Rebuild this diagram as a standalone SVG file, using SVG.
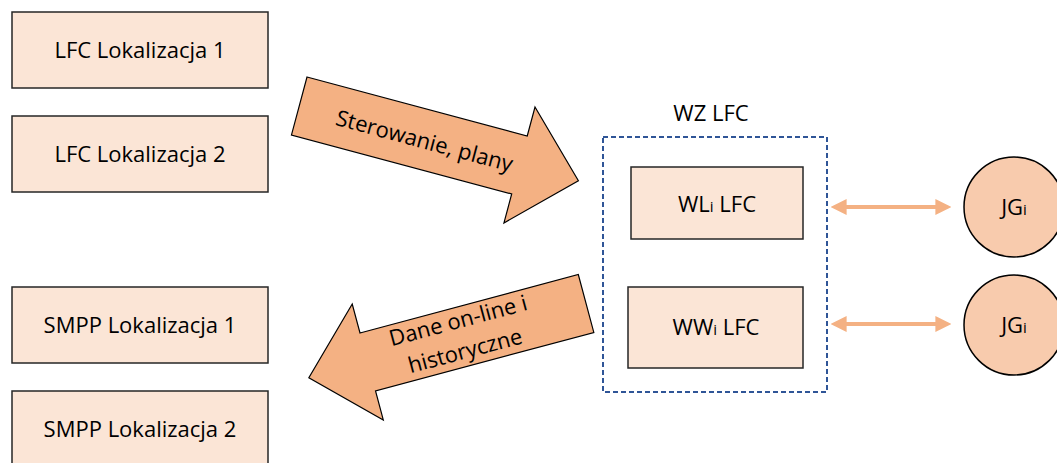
<svg xmlns="http://www.w3.org/2000/svg" width="1057" height="463" viewBox="0 0 1057 463">
<defs>
<style>
.box{fill:#FBE5D6;stroke:#262626;stroke-width:1.5}
.t{font-family:"Open Sans","Liberation Sans",sans-serif;font-size:22px;fill:#000;text-anchor:middle}
.blk{fill:#F4B183;stroke:#000;stroke-width:1.2}
.circ{fill:#F8CBAD;stroke:#000;stroke-width:1.5}
.dbl{stroke:#F4B183;stroke-width:4;fill:none;marker-start:url(#ah);marker-end:url(#ah)}
.sub{font-size:15px}
</style>
<marker id="ah" viewBox="0 0 10 10" refX="6" refY="5" markerWidth="4" markerHeight="4" orient="auto-start-reverse" markerUnits="strokeWidth">
<path d="M0,0 L10,5 L0,10 Z" fill="#F4B183"/>
</marker>
</defs>
<g id="lfc1"><rect class="box" x="12" y="12" width="256" height="76"/><text class="t" x="140" y="58">LFC Lokalizacja 1</text></g>
<g id="lfc2"><rect class="box" x="12" y="116" width="256" height="76"/><text class="t" x="140" y="162">LFC Lokalizacja 2</text></g>
<g id="smpp1"><rect class="box" x="12" y="287" width="256" height="76"/><text class="t" x="140" y="333">SMPP Lokalizacja 1</text></g>
<g id="smpp2"><rect class="box" x="12" y="391" width="256" height="76"/><text class="t" x="140" y="437">SMPP Lokalizacja 2</text></g>
<g id="wz">
<rect x="603" y="137" width="224" height="255" fill="none" stroke="#2F5597" stroke-width="2" stroke-dasharray="5,3"/>
<text class="t" x="711" y="121">WZ LFC</text>
</g>
<g id="wl"><rect class="box" x="631" y="167" width="172" height="72"/><text class="t" x="717" y="212">WL<tspan class="sub">i</tspan> LFC</text></g>
<g id="ww"><rect class="box" x="628" y="287" width="175" height="81"/><text class="t" x="716" y="335">WW<tspan class="sub">i</tspan> LFC</text></g>
<g id="jg1"><circle class="circ" cx="1014" cy="207" r="50"/><text class="t" x="1014" y="215">JG<tspan class="sub">i</tspan></text></g>
<g id="jg2"><circle class="circ" cx="1014" cy="325" r="50"/><text class="t" x="1014" y="333">JG<tspan class="sub">i</tspan></text></g>
<g id="connectors">
<g id="sterowanie" transform="translate(307,77) rotate(15)">
<polygon class="blk" points="0,0 228,0 228,-30 289,30 228,90 228,60 0,60"/>
<text class="t" x="130" y="39">Sterowanie, plany</text>
</g>
<g id="dane" transform="translate(360,333) rotate(-15)">
<polygon class="blk" points="0,0 226,0 226,60 0,60 0,90 -61,30 0,-30"/>
<text class="t" x="98" y="21">Dane on-line i</text>
<text class="t" x="97" y="52">historyczne</text>
</g>
<line class="dbl" x1="837" y1="207" x2="945" y2="207"/>
<line class="dbl" x1="837" y1="324" x2="945" y2="324"/>
</g>
</svg>
